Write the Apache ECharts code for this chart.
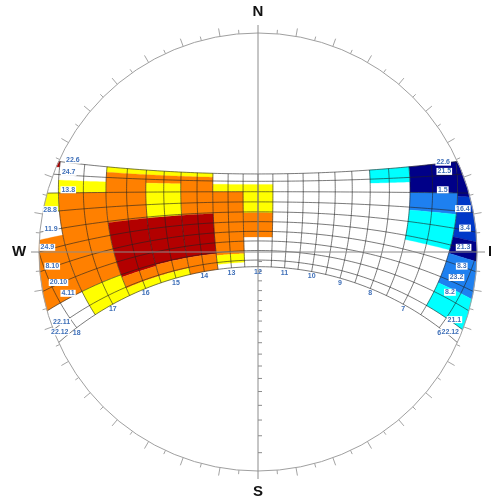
<!DOCTYPE html>
<html>
<head>
<meta charset="utf-8">
<script src="https://cdn.jsdelivr.net/npm/echarts/dist/echarts.min.js"></script>
<style>
html, body { margin: 0; padding: 0; background: #fff; }
#chart { width: 491px; height: 502px; }
</style>
</head>
<body>
<div id="chart"></div>
<script>
// latitude of the site (sun path for southern hemisphere)
var LAT = -15.78;

// declination of each date line, top to bottom
var decLines = [23.45, 20, 15, 10, 5, 0, -5, -10, -15, -20, -23.45];
var datesLeft = ['22.6', '24.7', '13.8', '28.8', '11.9', '24.9', '8.10', '20.10', '4.11', '22.11', '22.12'];
var datesRight = ['22.6', '21.5', '1.5', '16.4', '3.4', '21.3', '8.3', '23.2', '8.2', '21.1', '22.12'];

// hour lines (every half hour) and hour labels
var halfHours = [6, 6.5, 7, 7.5, 8, 8.5, 9, 9.5, 10, 10.5, 11, 11.5, 12,
	12.5, 13, 13.5, 14, 14.5, 15, 15.5, 16, 16.5, 17, 17.5, 18];
var hourLabels = [6, 7, 8, 9, 10, 11, 12, 13, 14, 15, 16, 17, 18];

// coloured cells: [hour, declination from, declination to, class]
var cells = [
	[6, 23.45, 14, 'N'], [6, 14, 2.5, 'R'], [6, 2.5, -2.5, 'N'], [6, -2.5, -12, 'B'], [6, -12, -20, 'C'],
	[7, 23.45, 15, 'N'], [7, 15, 9, 'B'], [7, 9, -1.5, 'C'],
	[8, 23.45, 18.5, 'C'],
	[12, 18.5, 4.5, 'Y'], [12, 4.5, -7.9, 'O'],
	[13, 18.5, 15, 'Y'], [13, 15, -16.5, 'O'], [13, -16.5, -21, 'Y'],
	[14, 23.45, 21.7, 'Y'], [14, 21.7, 4.5, 'O'], [14, 4.5, -15.5, 'D'], [14, -15.5, -23.45, 'O'],
	[15, 23.45, 21.7, 'Y'], [15, 21.7, 18.5, 'O'], [15, 18.5, 4.5, 'Y'], [15, 4.5, -15.5, 'D'], [15, -15.5, -20.5, 'O'], [15, -20.5, -23.45, 'Y'],
	[16, 23.45, 21.7, 'Y'], [16, 21.7, 4.5, 'O'], [16, 4.5, -16, 'D'], [16, -16, -20.5, 'O'], [16, -20.5, -23.45, 'Y'],
	[17, 18.5, 15, 'Y'], [17, 15, -15, 'O'], [17, -15, -23.45, 'Y'],
	[18, 23.45, 22, 'D'], [18, 15, 10, 'Y'], [18, 3, -15, 'O']
];

var palette = {
	Y: '#ffff00', O: '#ff8000', D: '#b30000',
	N: '#000088', R: '#0038c8', B: '#1e80f0', C: '#00ffff'
};

// label nudges in pixels (left side / right side)
var nudgeL = [[0, -3], [-3, -3], [-3, -3], [-1, -2], [0, -1], [-5, -1], [-3, 0], [-1, -1], [3, -7], [0, -2], [-8, -3]];
var nudgeR = [[0, -1], [0, -4], [-2, -3], [-2, -3], [0, -2], [0, -1], [1, 0], [0, -6], [-1, -8], [0, -4], [2, -3]];

var rad = Math.PI / 180;
var sinLat = Math.sin(LAT * rad), cosLat = Math.cos(LAT * rad);

// stereographic projection of the sun position (solar time t, declination d)
function proj(t, d) {
	var H = (t - 12) * 15 * rad, dr = d * rad;
	var cd = Math.cos(dr), sd = Math.sin(dr);
	var E = -cd * Math.sin(H);
	var N = cosLat * sd - sinLat * cd * Math.cos(H);
	var U = sinLat * sd + cosLat * cd * Math.cos(H);
	return [E / (1 + U), N / (1 + U)];
}

function halfDay(d) {
	var c = -Math.tan(LAT * rad) * Math.tan(d * rad);
	return Math.acos(Math.max(-1, Math.min(1, c))) / rad / 15;
}

function clampT(t, d) {
	var h = halfDay(d);
	return Math.min(Math.max(t, 12 - h), 12 + h);
}

function renderCell(params, api) {
	var c = cells[params.dataIndex];
	var t0 = c[0] - 0.5, t1 = c[0] + 0.5, d1 = c[1], d2 = c[2];
	var n = 14, pts = [], i, t, d;
	for (i = 0; i <= n; i++) {
		t = t0 + (t1 - t0) * i / n;
		pts.push(api.coord(proj(clampT(t, d1), d1)));
	}
	for (i = 1; i <= n; i++) {
		d = d1 + (d2 - d1) * i / n;
		pts.push(api.coord(proj(clampT(t1, d), d)));
	}
	for (i = n - 1; i >= 0; i--) {
		t = t0 + (t1 - t0) * i / n;
		pts.push(api.coord(proj(clampT(t, d2), d2)));
	}
	for (i = n - 1; i > 0; i--) {
		d = d1 + (d2 - d1) * i / n;
		pts.push(api.coord(proj(clampT(t0, d), d)));
	}
	return {
		type: 'polygon',
		shape: { points: pts },
		style: { fill: palette[c[3]], stroke: palette[c[3]], lineWidth: 0.3 }
	};
}

var gridStyle = { stroke: '#222', lineWidth: 0.8, opacity: 0.75, fill: null };

function renderDateLine(params, api) {
	var d = decLines[params.dataIndex];
	var h = halfDay(d), pts = [];
	for (var i = 0; i <= 90; i++) {
		var t = 12 - h + 2 * h * i / 90;
		pts.push(api.coord(proj(t, d)));
	}
	return { type: 'polyline', shape: { points: pts }, style: gridStyle };
}

function renderHourLine(params, api) {
	var t = halfHours[params.dataIndex];
	var pts = [];
	for (var i = 0; i <= 60; i++) {
		var d = 23.45 - 46.9 * i / 60;
		var h = halfDay(d);
		if (t >= 12 - h - 1e-9 && t <= 12 + h + 1e-9) pts.push(api.coord(proj(t, d)));
	}
	return { type: 'polyline', shape: { points: pts }, style: gridStyle };
}

function renderFrame(params, api) {
	var c = api.coord([0, 0]);
	var r = api.size([1, 0])[0];
	var ext = 8;
	var kids = [
		{ type: 'circle', shape: { cx: c[0], cy: c[1], r: r }, style: { stroke: '#a0a0a0', lineWidth: 1, fill: null } },
		{ type: 'line', shape: { x1: c[0], y1: c[1] - r - ext, x2: c[0], y2: c[1] + r + ext }, style: { stroke: '#8c8c8c', lineWidth: 1 } },
		{ type: 'line', shape: { x1: c[0] - r - ext, y1: c[1], x2: c[0] + r + ext, y2: c[1] }, style: { stroke: '#8c8c8c', lineWidth: 1 } }
	];
	// azimuth ticks around the horizon
	for (var a = 0; a < 360; a += 5) {
		if (a % 90 === 0) continue;
		var len = a % 10 === 0 ? 8 : 4;
		var sx = Math.sin(a * rad), sy = -Math.cos(a * rad);
		kids.push({ type: 'line', shape: { x1: c[0] + sx * r, y1: c[1] + sy * r, x2: c[0] + sx * (r + len), y2: c[1] + sy * (r + len) },
			style: { stroke: '#999', lineWidth: 0.9 } });
	}
	// altitude ticks on the south half of the meridian
	for (var alt = 5; alt < 90; alt += 5) {
		var y = c[1] + r * Math.tan((90 - alt) / 2 * rad);
		kids.push({ type: 'line', shape: { x1: c[0], y1: y, x2: c[0] + 4, y2: y }, style: { stroke: '#8c8c8c', lineWidth: 1 } });
	}
	var big = { fill: '#111', fontSize: 15, fontWeight: 'bold', fontFamily: 'Liberation Sans, Arial, sans-serif', align: 'center', verticalAlign: 'middle' };
	kids.push({ type: 'text', x: c[0], y: c[1] - r - 21, style: Object.assign({ text: 'N' }, big) });
	kids.push({ type: 'text', x: c[0], y: c[1] + r + 21, style: Object.assign({ text: 'S' }, big) });
	kids.push({ type: 'text', x: c[0] - r - 20, y: c[1], style: Object.assign({ text: 'W' }, big) });
	kids.push({ type: 'text', x: c[0] + r + 16, y: c[1], style: Object.assign({ text: 'E' }, big) });
	return { type: 'group', children: kids };
}

var labelFont = { fill: '#3e6fb8', fontSize: 7, fontWeight: 'bold', fontFamily: 'Liberation Sans, Arial, sans-serif', align: 'center', verticalAlign: 'middle' };

function renderDateLabels(params, api) {
	var i = params.dataIndex, d = decLines[i];
	var h = halfDay(d), tl, tr;
	if (d >= 15) {
		tl = 17.25; tr = 6.75;
	} else {
		// middle of the last (partial) cell before sunset, at least 0.3 h long
		var last = Math.ceil((12 + h) * 2) / 2 - 0.5;
		if (12 + h - last < 0.3) last -= 0.5;
		tl = (last + 12 + h) / 2;
		tr = 24 - tl;
	}
	var pl = api.coord(proj(tl, d)), pr = api.coord(proj(tr, d));
	var box = { backgroundColor: '#fff', padding: [0, 1, 0, 1] };
	return {
		type: 'group', children: [
			{ type: 'text', x: pl[0] + nudgeL[i][0], y: pl[1] + nudgeL[i][1], style: Object.assign({ text: datesLeft[i] }, labelFont, box) },
			{ type: 'text', x: pr[0] + nudgeR[i][0], y: pr[1] + nudgeR[i][1], style: Object.assign({ text: datesRight[i] }, labelFont, box) }
		]
	};
}

function renderHourLabel(params, api) {
	var hr = hourLabels[params.dataIndex];
	var p = api.coord(proj(hr, -23.45));
	return { type: 'text', x: p[0], y: p[1] + 5, style: Object.assign({ text: String(hr) }, labelFont) };
}

var chart = echarts.init(document.getElementById('chart'));
chart.setOption({
	animation: false,
	backgroundColor: '#fff',
	grid: { left: 39, top: 33, width: 438, height: 438 },
	xAxis: { type: 'value', min: -1, max: 1, show: false },
	yAxis: { type: 'value', min: -1, max: 1, show: false },
	series: [
		{ type: 'custom', renderItem: renderCell, data: cells.map(function (c, i) { return [i]; }), z: 1, silent: true },
		{ type: 'custom', renderItem: renderDateLine, data: decLines.map(function (d, i) { return [i]; }), z: 2, silent: true },
		{ type: 'custom', renderItem: renderHourLine, data: halfHours.map(function (t, i) { return [i]; }), z: 2, silent: true },
		{ type: 'custom', renderItem: renderFrame, data: [[0]], z: 3, silent: true },
		{ type: 'custom', renderItem: renderDateLabels, data: decLines.map(function (d, i) { return [i]; }), z: 4, silent: true },
		{ type: 'custom', renderItem: renderHourLabel, data: hourLabels.map(function (h, i) { return [i]; }), z: 4, silent: true }
	]
});
</script>
</body>
</html>
